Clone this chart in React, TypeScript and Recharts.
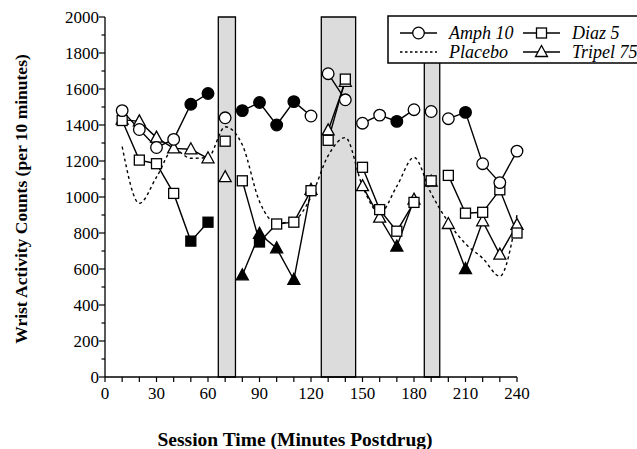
import { Line, LineChart, ReferenceArea, XAxis, YAxis } from "recharts";

const times = [10, 20, 30, 40, 50, 60, 70, 80, 90, 100, 110, 120, 130, 140, 150, 160, 170, 180, 190, 200, 210, 220, 230, 240];

const amph10 = [1480, 1375, 1275, 1320, 1515, 1575, 1440, 1480, 1525, 1400, 1530, 1450, 1685, 1540, 1410, 1455, 1420, 1485, 1475, 1435, 1470, 1185, 1080, 1255];
const diaz5 = [1425, 1205, 1185, 1020, 755, 860, 1310, 1090, 750, 850, 860, 1035, 1315, 1655, 1165, 930, 810, 970, 1090, 1120, 910, 915, 1040, 800];
const placebo = [1280, 965, 1110, 1265, 1215, 1220, 1390, 1290, 975, 855, 870, 1000, 1230, 1330, 1060, 910, 1060, 1220, 1020, 860, 740, 660, 560, 900];
const tripel75 = [1430, 1420, 1330, 1270, 1265, 1215, 1110, 565, 795, 715, 540, 1040, 1370, 1640, 1060, 885, 725, 985, 1085, 850, 600, 865, 680, 845];

// filled markers
const amphFilled = [50, 60, 80, 90, 100, 110, 170, 210];
const diazFilled = [50, 60, 90];
const tripelFilled = [80, 90, 100, 110, 170, 210];

// line is broken after these times
const breaks = [60, 70, 120, 140, 180, 190];

const bands = [
  [66, 76],
  [126, 146],
  [186, 195],
];

const xTicks = [0, 10, 20, 30, 40, 50, 60, 70, 80, 90, 100, 110, 120, 130, 140, 150, 160, 170, 180, 190, 200, 210, 220, 230, 240];
const yTicks = [0, 100, 200, 300, 400, 500, 600, 700, 800, 900, 1000, 1100, 1200, 1300, 1400, 1500, 1600, 1700, 1800, 1900, 2000];

const serif = "Liberation Serif, Tinos, Nimbus Roman, DejaVu Serif, serif";

const rows: any[] = [];
times.forEach((t, i) => {
  rows.push({ t, amph: amph10[i], diaz: diaz5[i], placebo: placebo[i], tripel: tripel75[i] });
  if (breaks.includes(t)) {
    rows.push({ t: t + 5, amph: null, diaz: null, placebo: null, tripel: null });
  }
});

function Marker({ shape, cx, cy, filled }: { shape: string; cx: number; cy: number; filled: boolean }) {
  const fill = filled ? "#000" : "#fff";
  if (shape === "circle") {
    return <circle cx={cx} cy={cy} r={5.8} fill={fill} stroke="#000" strokeWidth={1.3} />;
  }
  if (shape === "square") {
    return <rect x={cx - 5} y={cy - 5} width={10} height={10} fill={fill} stroke="#000" strokeWidth={1.3} />;
  }
  return (
    <polygon
      points={`${cx},${cy - 6.5} ${cx - 6},${cy + 4.5} ${cx + 6},${cy + 4.5}`}
      fill={fill}
      stroke="#000"
      strokeWidth={1.3}
    />
  );
}

const makeDot = (shape: string, filledTimes: number[]) => (props: any) => {
  const { cx, cy, payload, value, index } = props;
  if (cx == null || cy == null || value == null) return <g key={`e-${index}`} />;
  return (
    <g key={`d-${index}`}>
      <Marker shape={shape} cx={cx} cy={cy} filled={filledTimes.includes(payload.t)} />
    </g>
  );
};

const YTick = (props: any) => {
  const { x, y, payload } = props;
  const v = payload.value;
  const major = v % 200 === 0;
  return (
    <g>
      <line x1={x - (major ? 6 : 3.5)} x2={x} y1={y} y2={y} stroke="#000" strokeWidth={1.2} />
      {major && (
        <text x={x - 6} y={y} dy={6} textAnchor="end" fontSize={17} style={{ fontFamily: serif }} fill="#000">
          {v}
        </text>
      )}
    </g>
  );
};

const XTick = (props: any) => {
  const { x, y, payload } = props;
  const v = payload.value;
  return (
    <g>
      <line x1={x} x2={x} y1={y} y2={y + 5} stroke="#000" strokeWidth={1.2} />
      {v % 30 === 0 && (
        <text x={x} y={y + 22} textAnchor="middle" fontSize={17} style={{ fontFamily: serif }} fill="#000">
          {v}
        </text>
      )}
    </g>
  );
};

function LegendBox() {
  const items = [
    { label: "Amph 10", shape: "circle", x: 400, y: 33 },
    { label: "Diaz 5", shape: "square", x: 523, y: 33 },
    { label: "Placebo", shape: "dotted", x: 400, y: 52 },
    { label: "Tripel 75", shape: "triangle", x: 523, y: 52 },
  ];
  return (
    <svg width={637} height={449} style={{ position: "absolute", left: 0, top: 0, pointerEvents: "none" }}>
      <rect x={388} y={16} width={270} height={47} fill="#fff" stroke="#000" strokeWidth={1.5} />
      {items.map((it) => (
        <g key={it.label}>
          <line
            x1={it.x}
            x2={it.x + 37}
            y1={it.y}
            y2={it.y}
            stroke="#000"
            strokeWidth={1.3}
            strokeDasharray={it.shape === "dotted" ? "2.5 2.5" : undefined}
          />
          {it.shape !== "dotted" && <Marker shape={it.shape} cx={it.x + 18.5} cy={it.y} filled={false} />}
          <text
            x={it.x + 49}
            y={it.y + 6}
            fontSize={18}
            fontStyle="italic"
            style={{ fontFamily: serif }}
            fill="#000"
          >
            {it.label}
          </text>
        </g>
      ))}
    </svg>
  );
}

export default function App() {
  return (
    <div
      style={{
        position: "absolute",
        left: 0,
        top: 0,
        width: 637,
        height: 449,
        background: "#fff",
        fontFamily: serif,
      }}
    >
      <LineChart width={637} height={449} data={rows} margin={{ top: 17, right: 120, left: 45, bottom: 42 }}>
        {bands.map(([a, b]) => (
          <ReferenceArea
            key={a}
            x1={a}
            x2={b}
            y1={0}
            y2={2000}
            fill="#dcdcdc"
            fillOpacity={1}
            stroke="#000"
            strokeWidth={1.3}
          />
        ))}
        <XAxis
          dataKey="t"
          type="number"
          domain={[0, 240]}
          ticks={xTicks}
          interval={0}
          tick={<XTick />}
          tickSize={0}
          tickMargin={0}
          tickLine={false}
          height={30}
          axisLine={{ stroke: "#000", strokeWidth: 1.3 }}
        />
        <YAxis
          type="number"
          domain={[0, 2000]}
          ticks={yTicks}
          interval={0}
          tick={<YTick />}
          tickSize={0}
          tickMargin={0}
          tickLine={false}
          width={60}
          axisLine={{ stroke: "#000", strokeWidth: 1.3 }}
        />
        <Line
          dataKey="placebo"
          type="monotone"
          stroke="#000"
          strokeWidth={1.4}
          strokeDasharray="3 3"
          dot={false}
          activeDot={false}
          connectNulls
          isAnimationActive={false}
        />
        <Line
          dataKey="tripel"
          type="linear"
          stroke="#000"
          strokeWidth={1.4}
          dot={makeDot("triangle", tripelFilled)}
          activeDot={false}
          isAnimationActive={false}
        />
        <Line
          dataKey="diaz"
          type="linear"
          stroke="#000"
          strokeWidth={1.4}
          dot={makeDot("square", diazFilled)}
          activeDot={false}
          isAnimationActive={false}
        />
        <Line
          dataKey="amph"
          type="linear"
          stroke="#000"
          strokeWidth={1.4}
          dot={makeDot("circle", amphFilled)}
          activeDot={false}
          isAnimationActive={false}
        />
      </LineChart>
      <LegendBox />
      <div
        style={{
          position: "absolute",
          left: 21,
          top: 199,
          transform: "translate(-50%, -50%) rotate(-90deg)",
          whiteSpace: "nowrap",
          fontWeight: "bold",
          fontSize: 17.5,
        }}
      >
        Wrist Activity Counts (per 10 minutes)
      </div>
      <div
        style={{
          position: "absolute",
          left: 295,
          top: 440,
          transform: "translate(-50%, -50%)",
          whiteSpace: "nowrap",
          fontWeight: "bold",
          fontSize: 19.5,
        }}
      >
        Session Time (Minutes Postdrug)
      </div>
    </div>
  );
}
